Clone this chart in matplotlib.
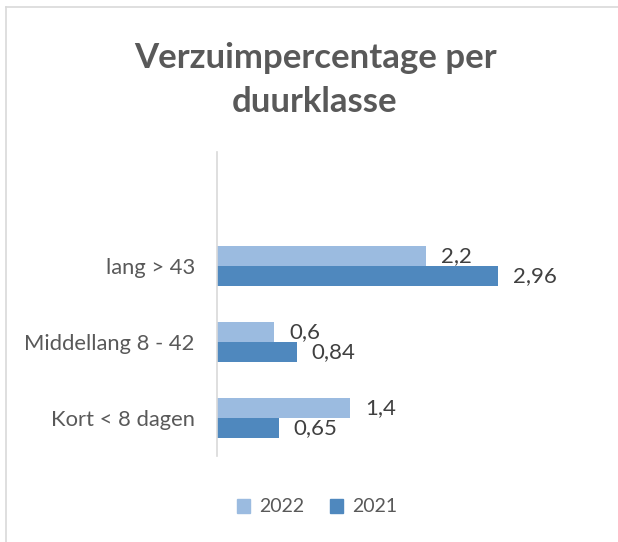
import matplotlib
matplotlib.use("Agg")
import matplotlib.pyplot as plt
from matplotlib.lines import Line2D
from matplotlib.patches import Patch

categories = ["Kort < 8 dagen", "Middellang 8 - 42", "lang > 43"]
values_2022 = [1.4, 0.6, 2.2]
values_2021 = [0.65, 0.84, 2.96]
labels_2022 = ["1,4", "0,6", "2,2"]
labels_2021 = ["0,65", "0,84", "2,96"]
series_names = ["2022", "2021"]

plt.rcParams['font.family'] = ['Lato', 'DejaVu Sans']
TXT = "#595959"
C22 = "#9BBBE0"
C21 = "#4F88BE"

W, H = 618, 542
fig = plt.figure(figsize=(W / 100, H / 100), dpi=100)

# chart border (top and left visible)
fig.add_artist(Line2D([6 / W, 1], [1 - 6.5 / H, 1 - 6.5 / H], color="#D9D9D9", lw=1.2))
fig.add_artist(Line2D([6 / W, 6 / W], [0, 1 - 6.5 / H], color="#D9D9D9", lw=1.2))

left, right, top, bottom = 217, 549, 152, 456
ax = fig.add_axes([left / W, 1 - bottom / H, (right - left) / W, (bottom - top) / H])

bh = 20 / 76
ys = list(range(len(categories)))
y22 = [y + bh / 2 for y in ys]
y21 = [y - bh / 2 for y in ys]
ax.barh(y22, values_2022, height=bh, color=C22, label=series_names[0])
ax.barh(y21, values_2021, height=bh, color=C21, label=series_names[1])

ax.set_xlim(0, 3.5)
ax.set_ylim(-0.5, 3.5)
ax.set_yticks(ys)
ax.set_yticklabels(categories, fontsize=15.8, color=TXT)
ax.tick_params(axis="y", length=0, pad=16)
ax.set_xticks([])
for s in ["top", "right", "bottom"]:
    ax.spines[s].set_visible(False)
ax.spines["left"].set_color("#D9D9D9")
ax.spines["left"].set_linewidth(1.2)

off = 15 / 94.9
for y, v, t in zip(y22, values_2022, labels_2022):
    ax.text(v + off, y, t, va="center", ha="left", fontsize=16, color="#404040")
for y, v, t in zip(y21, values_2021, labels_2021):
    ax.text(v + off, y, t, va="center", ha="left", fontsize=16, color="#404040")

fig.text(315 / W, 1 - 80 / H, "Verzuimpercentage per\nduurklasse", ha="center", va="center",
         fontsize=25, fontweight="bold", color=TXT, linespacing=1.5)

handles = [Patch(color=C22), Patch(color=C21)]
fig.legend(handles, series_names, loc="center", bbox_to_anchor=(317 / W, 1 - 507 / H),
           ncol=2, frameon=False, fontsize=14, labelcolor=TXT,
           handlelength=0.7, handleheight=0.7, handletextpad=0.45, columnspacing=1.3)

fig.savefig("out.png", dpi=100, facecolor="white")
